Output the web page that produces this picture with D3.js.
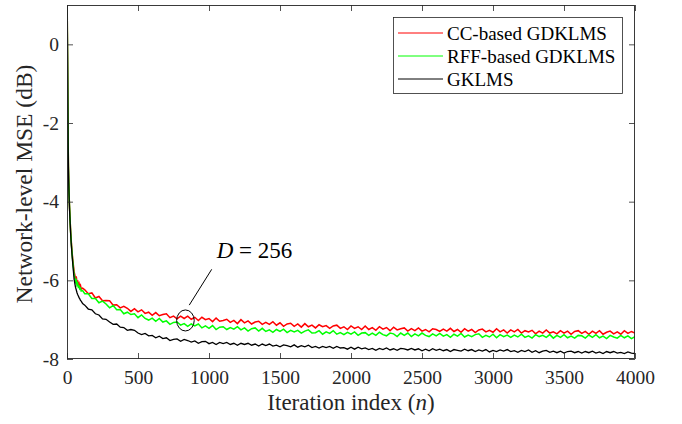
<!DOCTYPE html>
<html><head><meta charset="utf-8">
<script src="https://cdn.jsdelivr.net/npm/d3@7"></script>
<style>
body{margin:0;background:#fff}
svg{display:block}
text{font-family:"Liberation Serif","Times New Roman",Times,serif;fill:#262626}
</style>
</head><body>
<svg id="chart" width="682" height="424"></svg>
<script>
// ---------------- data ----------------
const iterEarly = [0,2,4,6,8,10,12,14,16,18,20,23,26,30,35,40,45,50,55,60,65,70,75,80,85,90,95,100,110];
const iterLate = d3.range(125, 4001, 25);

const ccEarly = [1.8,0.6,-0.4,-1.45,-2.45,-3.1,-3.45,-3.72,-3.95,-4.15,-4.3,-4.55,-4.78,-5.0,-5.25,-5.45,-5.62,-5.78,-5.86,-5.98,-5.9,-6.05,-6.0,-6.12,-6.08,-6.17,-6.13,-6.22,-6.20];
const ccLate = [
-6.24,-6.34,-6.32,-6.45,-6.41,-6.52,-6.51,-6.52,-6.63,-6.62,
-6.70,-6.66,-6.71,-6.79,-6.72,-6.80,-6.75,-6.84,-6.81,-6.89,
-6.82,-6.90,-6.87,-6.85,-6.95,-6.91,-6.98,-6.91,-6.97,-6.91,
-6.99,-6.94,-7.02,-6.94,-7.00,-6.97,-7.05,-6.96,-7.04,-7.02,
-6.99,-7.07,-7.02,-7.10,-7.00,-7.08,-7.03,-7.11,-7.06,-7.04,
-7.12,-7.07,-7.12,-7.05,-7.14,-7.08,-7.17,-7.11,-7.09,-7.17,
-7.11,-7.19,-7.10,-7.18,-7.14,-7.21,-7.13,-7.18,-7.15,-7.22,
-7.16,-7.14,-7.22,-7.18,-7.25,-7.16,-7.22,-7.18,-7.25,-7.16,
-7.25,-7.20,-7.27,-7.18,-7.24,-7.20,-7.28,-7.19,-7.26,-7.23,
-7.21,-7.29,-7.23,-7.28,-7.21,-7.29,-7.25,-7.31,-7.23,-7.25,
-7.30,-7.24,-7.29,-7.22,-7.30,-7.25,-7.32,-7.23,-7.29,-7.25,
-7.33,-7.26,-7.24,-7.31,-7.27,-7.32,-7.23,-7.31,-7.26,-7.34,
-7.26,-7.31,-7.25,-7.34,-7.28,-7.31,-7.27,-7.36,-7.29,-7.34,
-7.26,-7.34,-7.31,-7.36,-7.28,-7.34,-7.29,-7.37,-7.30,-7.28,
-7.35,-7.30,-7.37,-7.29,-7.35,-7.28,-7.37,-7.32,-7.29,-7.36,
-7.31,-7.37,-7.28,-7.35,-7.30,-7.34];

const rffEarly = [1.8,0.6,-0.4,-1.45,-2.45,-3.1,-3.45,-3.72,-3.95,-4.15,-4.32,-4.57,-4.8,-5.03,-5.28,-5.5,-5.68,-5.85,-5.93,-6.04,-6.0,-6.12,-6.08,-6.17,-6.15,-6.22,-6.2,-6.27,-6.26];
const rffLate = [
-6.34,-6.34,-6.46,-6.46,-6.57,-6.53,-6.60,-6.70,-6.64,-6.75,
-6.74,-6.85,-6.81,-6.87,-6.85,-6.95,-6.88,-6.97,-7.01,-6.96,
-7.04,-6.97,-7.06,-7.03,-7.12,-7.07,-7.06,-7.14,-7.10,-7.17,
-7.11,-7.16,-7.11,-7.21,-7.16,-7.22,-7.15,-7.25,-7.19,-7.18,
-7.25,-7.20,-7.24,-7.18,-7.26,-7.21,-7.29,-7.23,-7.21,-7.29,
-7.22,-7.30,-7.26,-7.32,-7.25,-7.30,-7.24,-7.33,-7.27,-7.31,
-7.27,-7.34,-7.29,-7.26,-7.34,-7.33,-7.28,-7.37,-7.31,-7.35,
-7.28,-7.37,-7.33,-7.38,-7.32,-7.37,-7.31,-7.40,-7.34,-7.33,
-7.40,-7.34,-7.40,-7.32,-7.38,-7.41,-7.34,-7.36,-7.43,-7.34,
-7.40,-7.34,-7.43,-7.36,-7.41,-7.34,-7.40,-7.43,-7.36,-7.41,
-7.35,-7.42,-7.38,-7.45,-7.37,-7.42,-7.35,-7.44,-7.39,-7.43,
-7.38,-7.36,-7.45,-7.40,-7.44,-7.37,-7.46,-7.38,-7.43,-7.39,
-7.45,-7.39,-7.44,-7.37,-7.45,-7.41,-7.47,-7.38,-7.43,-7.40,
-7.45,-7.38,-7.47,-7.40,-7.45,-7.38,-7.46,-7.42,-7.47,-7.40,
-7.41,-7.47,-7.39,-7.45,-7.38,-7.46,-7.42,-7.48,-7.40,-7.44,
-7.47,-7.40,-7.46,-7.41,-7.48,-7.43];

const gklmsEarly = [1.8,0.6,-0.4,-1.5,-2.5,-3.15,-3.5,-3.78,-4.0,-4.2,-4.37,-4.6,-4.83,-5.08,-5.33,-5.55,-5.76,-5.97,-6.08,-6.18,-6.24,-6.31,-6.36,-6.40,-6.44,-6.47,-6.51,-6.53,-6.59];
const gklmsLate = [
-6.63,-6.73,-6.75,-6.85,-6.88,-6.98,-6.99,-7.06,-7.12,-7.11,
-7.19,-7.20,-7.27,-7.25,-7.27,-7.34,-7.38,-7.35,-7.41,-7.40,
-7.46,-7.42,-7.48,-7.46,-7.53,-7.50,-7.49,-7.55,-7.50,-7.53,
-7.57,-7.54,-7.60,-7.56,-7.55,-7.61,-7.58,-7.63,-7.58,-7.61,
-7.58,-7.63,-7.60,-7.65,-7.60,-7.63,-7.60,-7.65,-7.62,-7.67,
-7.62,-7.66,-7.62,-7.67,-7.65,-7.69,-7.64,-7.66,-7.69,-7.64,
-7.70,-7.66,-7.69,-7.65,-7.71,-7.68,-7.72,-7.68,-7.71,-7.68,
-7.73,-7.68,-7.72,-7.71,-7.75,-7.70,-7.75,-7.70,-7.74,-7.72,
-7.76,-7.73,-7.78,-7.73,-7.76,-7.72,-7.77,-7.74,-7.78,-7.73,
-7.74,-7.77,-7.73,-7.77,-7.74,-7.79,-7.75,-7.79,-7.74,-7.78,
-7.75,-7.79,-7.76,-7.81,-7.76,-7.78,-7.80,-7.75,-7.79,-7.76,
-7.81,-7.77,-7.80,-7.76,-7.82,-7.78,-7.81,-7.77,-7.80,-7.76,
-7.81,-7.79,-7.83,-7.78,-7.81,-7.77,-7.83,-7.79,-7.84,-7.80,
-7.78,-7.83,-7.80,-7.84,-7.80,-7.85,-7.81,-7.80,-7.84,-7.81,
-7.85,-7.81,-7.84,-7.80,-7.85,-7.82,-7.86,-7.81,-7.84,-7.81,
-7.85,-7.83,-7.86,-7.82,-7.85,-7.86];

const seriesNames = ["CC-based GDKLMS", "RFF-based GDKLMS", "GKLMS"];
const xTickValues = [0, 500, 1000, 1500, 2000, 2500, 3000, 3500, 4000];
const yTickValues = [-8, -6, -4, -2, 0];
const xLabel = "Iteration index";
const yLabel = "Network-level MSE (dB)";
// annotation in data units
const noteCircle = {n: 834, mse: -7.02, dn: 62, dmse: 0.267};
const noteLine = {n1: 1019, m1: -5.72, n2: 861, m2: -6.63};
const noteText = {n: 1054, mse: -5.42, D: 256};

// ---------------- styles ----------------
const seriesColors = ["#ff0000", "#00ff00", "#000000"];
const seriesWidths = [1.5, 1.5, 1.3];
const W = 682, H = 424;
const M = {left: 67, right: 47, top: 5, bottom: 65};
const axisColor = "#262626";
const serif = '"Liberation Serif","Times New Roman",Times,serif';

const iterations = iterEarly.concat(iterLate);
const seriesValues = [ccEarly.concat(ccLate), rffEarly.concat(rffLate), gklmsEarly.concat(gklmsLate)];

const svg = d3.select("#chart");
const x = d3.scaleLinear().domain([0, 4000]).range([M.left, W - M.right]);
const y = d3.scaleLinear().domain([-8, 1]).range([H - M.bottom, M.top]);

svg.append("rect").attr("x", M.left).attr("y", M.top)
  .attr("width", W - M.left - M.right).attr("height", H - M.top - M.bottom).attr("fill", "#fff");

svg.append("defs").append("clipPath").attr("id", "clip").append("rect")
  .attr("x", M.left).attr("y", M.top)
  .attr("width", W - M.left - M.right).attr("height", H - M.top - M.bottom);

const line = d3.line().x(d => x(d[0])).y(d => y(d[1]));
const gLines = svg.append("g").attr("clip-path", "url(#clip)");
seriesValues.forEach((vals, i) => {
  const pts = iterations.map((n, k) => [n, vals[k]]);
  gLines.append("path").datum(pts).attr("d", line)
    .attr("fill", "none").attr("stroke", seriesColors[i])
    .attr("stroke-width", seriesWidths[i]).attr("stroke-linejoin", "miter");
});

// axes
const fmt = d => String(d);
function styleAxis(g) {
  g.attr("font-family", serif).attr("font-size", 19.5);
  g.select(".domain").remove();
  g.selectAll(".tick line").attr("stroke", axisColor).attr("stroke-width", 0.8);
  g.selectAll(".tick text").attr("fill", axisColor);
}
svg.append("g").attr("transform", `translate(0,${H - M.bottom})`)
  .call(d3.axisBottom(x).tickValues(xTickValues).tickFormat(fmt).tickSizeInner(-6).tickSizeOuter(0).tickPadding(11))
  .call(styleAxis);
svg.append("g").attr("transform", `translate(0,${M.top})`)
  .call(d3.axisTop(x).tickValues(xTickValues).tickFormat("").tickSizeInner(-6).tickSizeOuter(0))
  .call(styleAxis);
svg.append("g").attr("transform", `translate(${M.left},0)`)
  .call(d3.axisLeft(y).tickValues(yTickValues).tickFormat(fmt).tickSizeInner(-6).tickSizeOuter(0).tickPadding(8))
  .call(styleAxis);
svg.append("g").attr("transform", `translate(${W - M.right},0)`)
  .call(d3.axisRight(y).tickValues(yTickValues).tickFormat("").tickSizeInner(-6).tickSizeOuter(0))
  .call(styleAxis);

// frame
svg.append("rect").attr("x", M.left + 0.5).attr("y", M.top + 0.5)
  .attr("width", W - M.left - M.right - 1).attr("height", H - M.top - M.bottom - 1)
  .attr("fill", "none").attr("stroke", axisColor).attr("stroke-width", 0.9);

// axis labels
const xl = svg.append("text").attr("x", (M.left + W - M.right) / 2).attr("y", 410)
  .attr("text-anchor", "middle").style("font-size", "23px");
xl.append("tspan").text(xLabel + " (");
xl.append("tspan").attr("font-style", "italic").text("n");
xl.append("tspan").text(")");

svg.append("text").attr("transform", `translate(32,${(M.top + H - M.bottom) / 2 + 2}) rotate(-90)`)
  .attr("text-anchor", "middle").style("font-size", "23.5px").text(yLabel);

// legend
const lg = svg.append("g");
lg.append("rect").attr("x", 393.5).attr("y", 17.5).attr("width", 229).attr("height", 76)
  .attr("fill", "#fff").attr("stroke", axisColor).attr("stroke-width", 0.8);
seriesNames.forEach((name, i) => {
  const ly = 33 + i * 23;
  lg.append("line").attr("x1", 398).attr("x2", 443).attr("y1", ly).attr("y2", ly)
    .attr("stroke", seriesColors[i]).attr("stroke-width", 1);
  lg.append("text").attr("x", 447).attr("y", ly).attr("dy", "0.35em")
    .style("font-size", "19px").style("fill", "#000").text(name);
});

// annotation
svg.append("ellipse")
  .attr("cx", x(noteCircle.n)).attr("cy", y(noteCircle.mse))
  .attr("rx", x(noteCircle.n + noteCircle.dn) - x(noteCircle.n))
  .attr("ry", y(noteCircle.mse) - y(noteCircle.mse + noteCircle.dmse))
  .attr("fill", "none").attr("stroke", "#000").attr("stroke-width", 1);
svg.append("line")
  .attr("x1", x(noteLine.n1)).attr("y1", y(noteLine.m1))
  .attr("x2", x(noteLine.n2)).attr("y2", y(noteLine.m2))
  .attr("stroke", "#000").attr("stroke-width", 1);
const nt = svg.append("text").attr("x", x(noteText.n)).attr("y", y(noteText.mse))
  .style("font-size", "23px").style("fill", "#000");
nt.append("tspan").attr("font-style", "italic").text("D");
nt.append("tspan").text(" = " + noteText.D);
</script>
</body></html>
